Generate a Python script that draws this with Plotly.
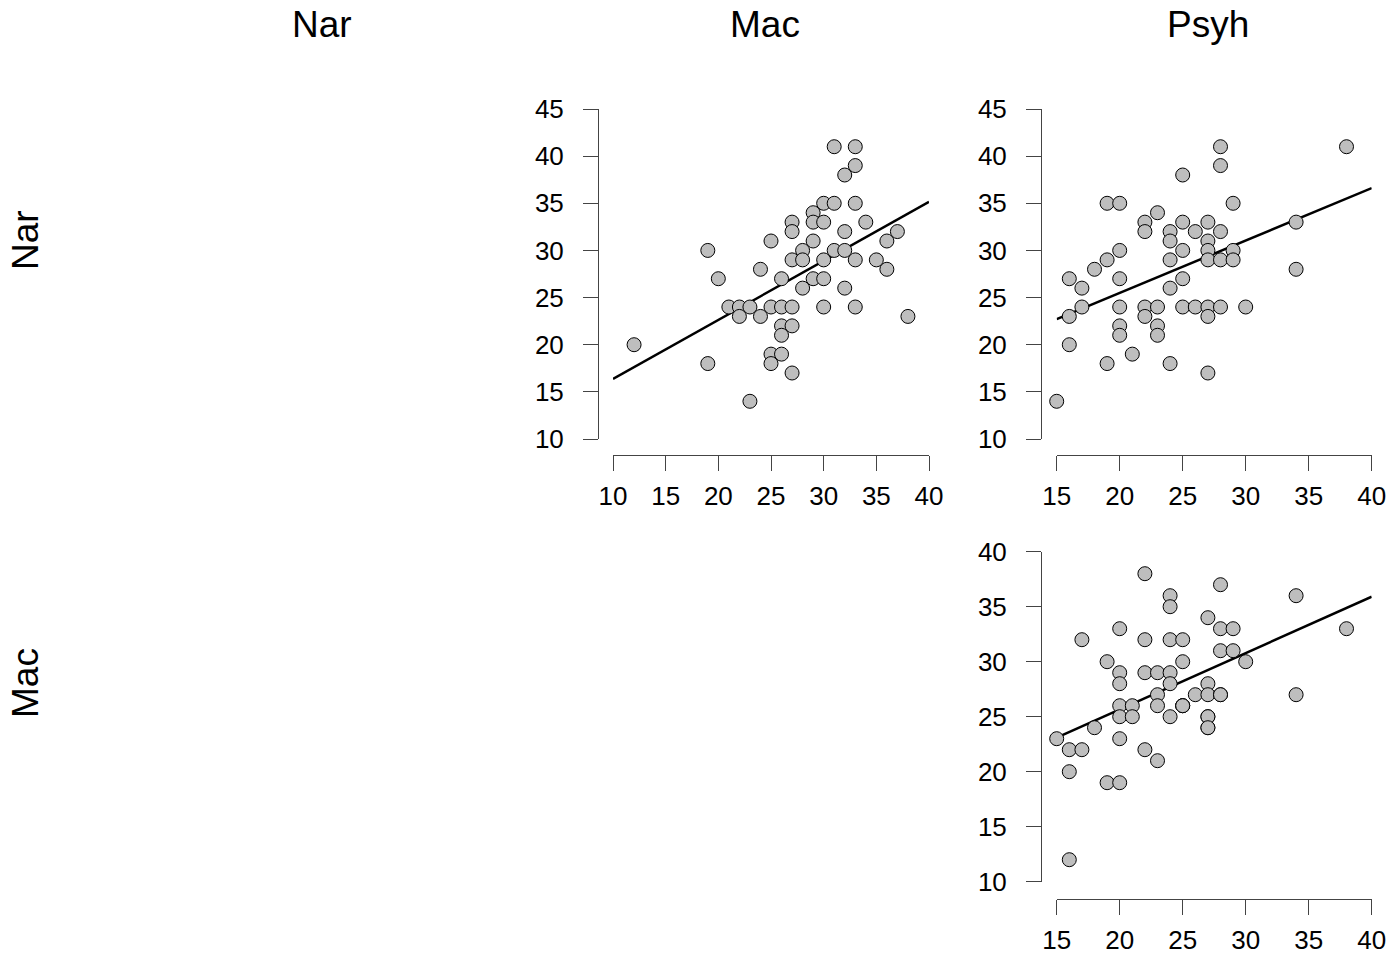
import numpy as np
import plotly.graph_objects as go

# ---------------- data ----------------
# Panel 1: x = Mac, y = Nar
mac_p1 = [12, 19, 19, 20, 21, 22, 22, 23, 23, 24, 24, 25, 25, 25, 25, 26, 26, 26, 26, 26,
          27, 27, 27, 27, 27, 27, 28, 28, 28, 29, 29, 29, 29, 30, 30, 30, 30, 30, 31, 31,
          31, 32, 32, 32, 32, 33, 33, 33, 33, 33, 34, 35, 36, 36, 37, 38]
nar_p1 = [20, 30, 18, 27, 24, 24, 23, 24, 14, 28, 23, 31, 24, 19, 18, 27, 24, 22, 21, 19,
          33, 32, 29, 24, 22, 17, 30, 29, 26, 34, 33, 31, 27, 35, 33, 29, 27, 24, 41, 35,
          30, 38, 32, 30, 26, 41, 39, 35, 29, 24, 33, 29, 31, 28, 32, 23]

# Panel 2: x = Psyh, y = Nar
psyh_p2 = [15, 16, 16, 16, 17, 17, 18, 19, 19, 19, 20, 20, 20, 20, 20, 20, 21, 22, 22, 22,
           22, 23, 23, 23, 23, 24, 24, 24, 24, 24, 25, 25, 25, 25, 25, 26, 26, 27, 27, 27,
           27, 27, 27, 27, 28, 28, 28, 28, 28, 29, 29, 29, 30, 34, 34, 38]
nar_p2 = [14, 27, 23, 20, 26, 24, 28, 35, 29, 18, 35, 30, 27, 24, 22, 21, 19, 33, 32, 24,
          23, 34, 24, 22, 21, 32, 31, 29, 26, 18, 38, 33, 30, 27, 24, 32, 24, 33, 31, 30,
          29, 24, 23, 17, 41, 39, 32, 29, 24, 35, 30, 29, 24, 33, 28, 41]

# Panel 3: x = Psyh, y = Mac  (a few overlapping points included)
psyh_p3 = [15, 16, 16, 16, 17, 17, 18, 19, 19, 20, 20, 20, 20, 20, 20, 20, 21, 21, 22, 22,
           22, 22, 23, 23, 23, 23, 24, 24, 24, 24, 24, 24, 25, 25, 25, 26, 27, 27, 27, 27,
           27, 28, 28, 28, 28, 29, 29, 30, 34, 34, 38, 25, 25, 27, 27, 28]
mac_p3 = [23, 22, 20, 12, 32, 22, 24, 30, 19, 33, 29, 28, 26, 25, 23, 19, 26, 25, 38, 32,
          29, 22, 29, 27, 26, 21, 36, 35, 32, 29, 28, 25, 32, 30, 26, 27, 34, 28, 27, 25,
          24, 37, 33, 31, 27, 33, 31, 30, 36, 27, 33, 26, 26, 25, 24, 27]

col_titles = ["Nar", "Mac", "Psyh"]
row_titles = ["Nar", "Mac"]
ticks_p1_x = [10, 15, 20, 25, 30, 35, 40]
ticks_p1_y = [10, 15, 20, 25, 30, 35, 40, 45]
ticks_p2_x = [15, 20, 25, 30, 35, 40]
ticks_p2_y = [10, 15, 20, 25, 30, 35, 40, 45]
ticks_p3_x = [15, 20, 25, 30, 35, 40]
ticks_p3_y = [10, 15, 20, 25, 30, 35, 40]

# ---------------- figure ----------------
W, H = 1392, 959
FONT = "Liberation Sans, Arial, sans-serif"


def px(x):
    return x / W


def py(y):
    return 1 - y / H


fig = go.Figure()

panels = [
    # (xdata, ydata, xticks, yticks, x pixel span, y pixel span (top,bottom), yaxis x pos, xaxis y pos)
    (mac_p1, nar_p1, ticks_p1_x, ticks_p1_y, (613, 929), (109, 439), 598, 455),
    (psyh_p2, nar_p2, ticks_p2_x, ticks_p2_y, (1056.7, 1371.7), (109, 439), 1041, 455),
    (psyh_p3, mac_p3, ticks_p3_x, ticks_p3_y, (1056.7, 1371.7), (551.7, 881.7), 1041, 899),
]

axis_common = dict(
    showline=True, linecolor="#444", linewidth=1,
    ticks="outside", ticklen=15, tickcolor="#444", tickwidth=1,
    showgrid=False, zeroline=False, automargin=False,
    tickfont=dict(family=FONT, size=26, color="black"),
    tickmode="array",
)

for i, (xd, yd, xt, yt, xspan, yspan, yax_x, xax_y) in enumerate(panels, start=1):
    xa = "x" if i == 1 else f"x{i}"
    ya = "y" if i == 1 else f"y{i}"
    xd_arr = np.array(xd, dtype=float)
    yd_arr = np.array(yd, dtype=float)
    slope, intercept = np.polyfit(xd_arr, yd_arr, 1)
    lx = np.array([xt[0], xt[-1]], dtype=float)
    fig.add_trace(go.Scatter(
        x=lx, y=intercept + slope * lx, mode="lines",
        line=dict(color="black", width=2.5), xaxis=xa, yaxis=ya,
        showlegend=False, hoverinfo="skip"))
    fig.add_trace(go.Scatter(
        x=xd, y=yd, mode="markers",
        marker=dict(size=14, color="#BEBEBE", line=dict(color="black", width=1)),
        cliponaxis=False, xaxis=xa, yaxis=ya, showlegend=False))

    xname = "xaxis" if i == 1 else f"xaxis{i}"
    yname = "yaxis" if i == 1 else f"yaxis{i}"
    fig.layout[xname] = dict(
        axis_common,
        domain=[px(xspan[0]), px(xspan[1])],
        range=[xt[0], xt[-1]], tickvals=xt,
        anchor="free", position=py(xax_y), ticklabelstandoff=3)
    fig.layout[yname] = dict(
        axis_common,
        domain=[py(yspan[1]), py(yspan[0])],
        range=[yt[0], yt[-1]], tickvals=yt,
        anchor="free", position=px(yax_x), ticklabelstandoff=14)

annotations = []
for t, xc in zip(col_titles, [322, 765, 1208]):
    annotations.append(dict(
        text=t, x=px(xc), y=py(25), xref="paper", yref="paper",
        showarrow=False, xanchor="center", yanchor="middle",
        font=dict(family=FONT, size=37, color="black")))
for t, yc in zip(row_titles, [240, 683]):
    annotations.append(dict(
        text=t, x=px(25), y=py(yc), xref="paper", yref="paper",
        showarrow=False, xanchor="center", yanchor="middle", textangle=-90,
        font=dict(family=FONT, size=37, color="black")))

fig.update_layout(
    template="none",
    width=W, height=H,
    margin=dict(l=0, r=0, t=0, b=0, pad=0, autoexpand=False),
    paper_bgcolor="white", plot_bgcolor="white",
    annotations=annotations,
    showlegend=False,
)

fig.write_html(
    "out.html",
    config={"displayModeBar": False},
    post_script="document.body.style.margin='0';document.body.style.overflow='hidden';",
)
